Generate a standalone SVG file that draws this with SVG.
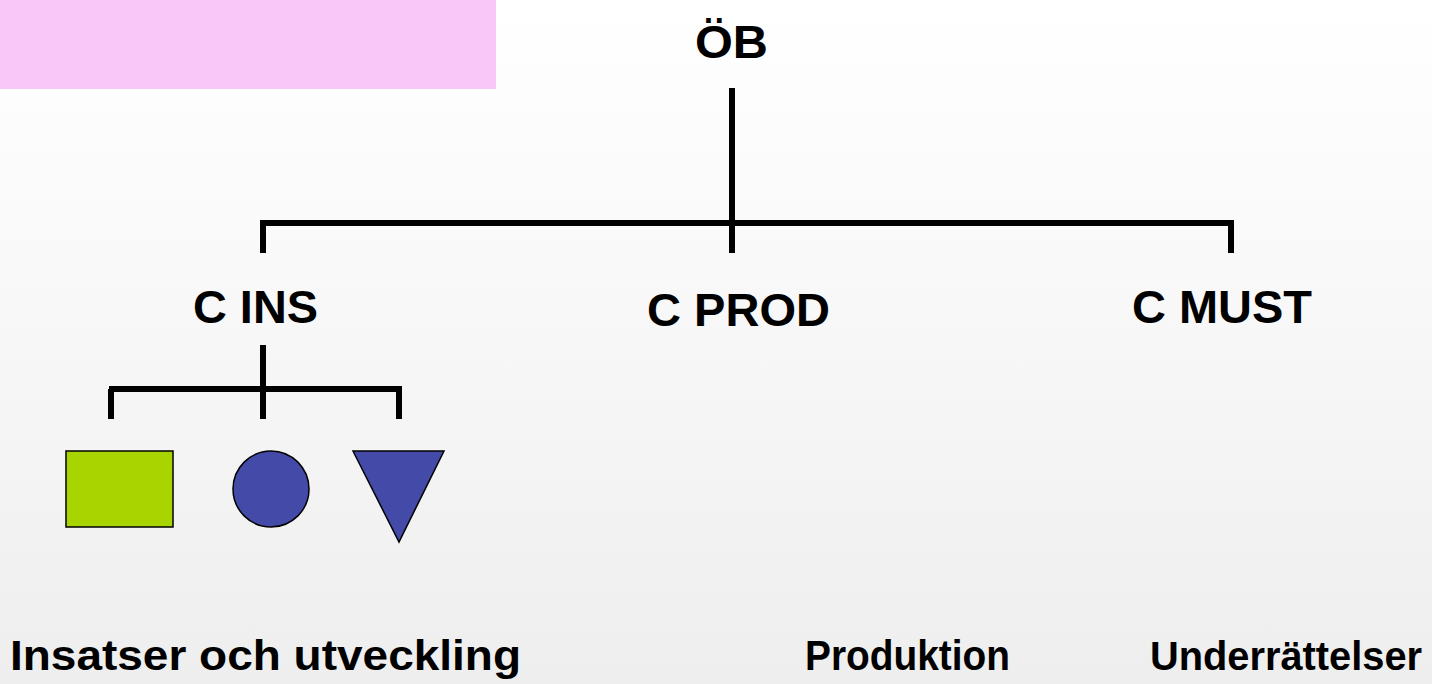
<svg xmlns="http://www.w3.org/2000/svg" width="1432" height="684" viewBox="0 0 1432 684">
<defs>
<style>
.t{font-family:"Liberation Sans",Arial,sans-serif;font-weight:bold;fill:#000;font-size:46px;}
.b{font-size:43px;}
.c{stroke:#000;stroke-width:6;fill:none;stroke-linecap:butt;}
.s{stroke:#000;stroke-width:1.5;}
</style>
<linearGradient id="bg" x1="0" y1="0" x2="0" y2="1">
<stop offset="0" stop-color="#ffffff"/>
<stop offset="0.45" stop-color="#f8f8f8"/>
<stop offset="1" stop-color="#eeeeee"/>
</linearGradient>
</defs>
<rect x="0" y="0" width="1432" height="684" fill="url(#bg)"/>
<rect x="0" y="0" width="496" height="89" fill="#f9c8f9"/>
<g id="connectors">
<path class="c" d="M732 88 V253"/>
<path class="c" d="M260 223 H1234"/>
<path class="c" d="M263 223 V253"/>
<path class="c" d="M1231 223 V253"/>
<path class="c" d="M263 345 V419"/>
<path class="c" d="M109 389 H402"/>
<path class="c" d="M111 389 V419"/>
<path class="c" d="M399 389 V419"/>
</g>
<g id="node-ob"><text class="t" x="695" y="58" textLength="73" lengthAdjust="spacingAndGlyphs">ÖB</text></g>
<g id="node-cins"><text class="t" x="193" y="323" textLength="125" lengthAdjust="spacingAndGlyphs">C INS</text></g>
<g id="node-cprod"><text class="t" x="647" y="326" textLength="183" lengthAdjust="spacingAndGlyphs">C PROD</text></g>
<g id="node-cmust"><text class="t" x="1132" y="323" textLength="180" lengthAdjust="spacingAndGlyphs">C MUST</text></g>
<g id="node-square"><rect class="s" x="66" y="451" width="107" height="76" fill="#a8d400"/></g>
<g id="node-circle"><circle class="s" cx="271" cy="489" r="38" fill="#434aa8"/></g>
<g id="node-triangle"><polygon class="s" points="353,451 444,451 399,542" fill="#434aa8"/></g>
<g id="label-ins"><text class="t b" x="10" y="670" textLength="511" lengthAdjust="spacingAndGlyphs">Insatser och utveckling</text></g>
<g id="label-prod"><text class="t b" x="805" y="670" textLength="205" lengthAdjust="spacingAndGlyphs">Produktion</text></g>
<g id="label-must"><text class="t" x="1150" y="670" font-size="40" style="font-size:40px" textLength="272" lengthAdjust="spacingAndGlyphs">Underrättelser</text></g>
</svg>
